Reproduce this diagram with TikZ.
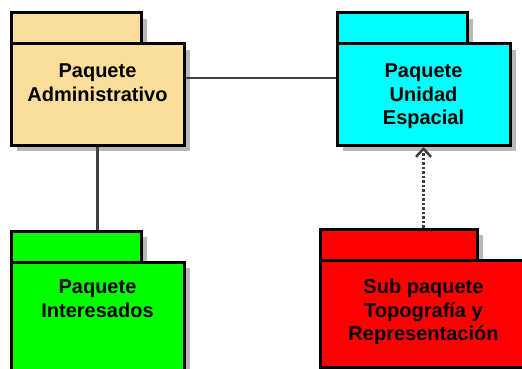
\documentclass[tikz,border=0pt]{standalone}
\usepackage{fontspec}
\setmainfont{Liberation Sans}
\usepackage{tikz}
\usetikzlibrary{positioning,arrows.meta,shadows}
\definecolor{admfill}{RGB}{250,222,154}
\definecolor{unifill}{RGB}{0,255,255}
\definecolor{intfill}{RGB}{0,255,0}
\definecolor{topfill}{RGB}{255,0,0}
\definecolor{linegray}{RGB}{64,64,64}

\begin{document}
\begin{tikzpicture}[x=1pt,y=-1pt,
    every node/.style={inner sep=0pt},
    pkg/.style={draw=black,line width=3pt,outer sep=0pt,minimum width=173pt,minimum height=101pt,
      drop shadow={shadow xshift=6pt,shadow yshift=-6pt,fill=black!28,opacity=1}},
    pkgtab/.style={pkg,minimum width=130pt,minimum height=31pt,anchor=south west},
    pkgname/.style={font=\fontsize{20}{23.5}\selectfont\bfseries,align=center},
    assoc/.style={draw=linegray,line width=2.5pt,shorten <=1.5pt,shorten >=1.5pt},
    dep/.style={draw=linegray,line width=2.5pt,dash pattern=on 2.5pt off 2pt,shorten <=1.5pt,shorten >=2pt,
      -{Straight Barb[length=8pt,width=15pt,line width=2.5pt]}}]
    \useasboundingbox (0,0) rectangle (522,369);
    \clip (0,0) rectangle (522,369);
    \node[pkgtab,fill=admfill] (admtab) at (11,44) {};
    \node[pkg,fill=admfill,below right=0pt of admtab.south west] (adm) {};
    \node[pkgname,below=20pt of adm.north] (admname) {Paquete\\Administrativo};
    \node[pkgtab,fill=unifill] (unitab) at (337,44) {};
    \node[pkg,fill=unifill,below right=0pt of unitab.south west] (uni) {};
    \node[pkgname,below=20pt of uni.north] (uniname) {Paquete\\Unidad\\Espacial};
    \node[pkgtab,fill=intfill] (inttab) at (11,262) {};
    \node[pkg,fill=intfill,minimum height=130pt,below right=0pt of inttab.south west] (int) {};
    \node[pkgname,below=18pt of int.north] (intname) {Paquete\\Interesados};
    \node[pkgtab,fill=topfill,minimum width=157pt] (toptab) at (320,260) {};
    \node[pkg,fill=topfill,minimum width=207pt,minimum height=107pt,below right=0pt of toptab.south west] (top) {};
    \node[pkgname,below=19pt of top.north] (topname) {Sub paquete\\Topografía y\\Representación};
    \draw[assoc] ([yshift=16.5pt]adm.east) -- ([yshift=16.5pt]uni.west);
    \draw[assoc] (adm.south) -- (adm.south |- inttab.north);
    \draw[dep] (toptab.north -| top.north) -- (uni.south);
  \end{tikzpicture}
\end{document}
